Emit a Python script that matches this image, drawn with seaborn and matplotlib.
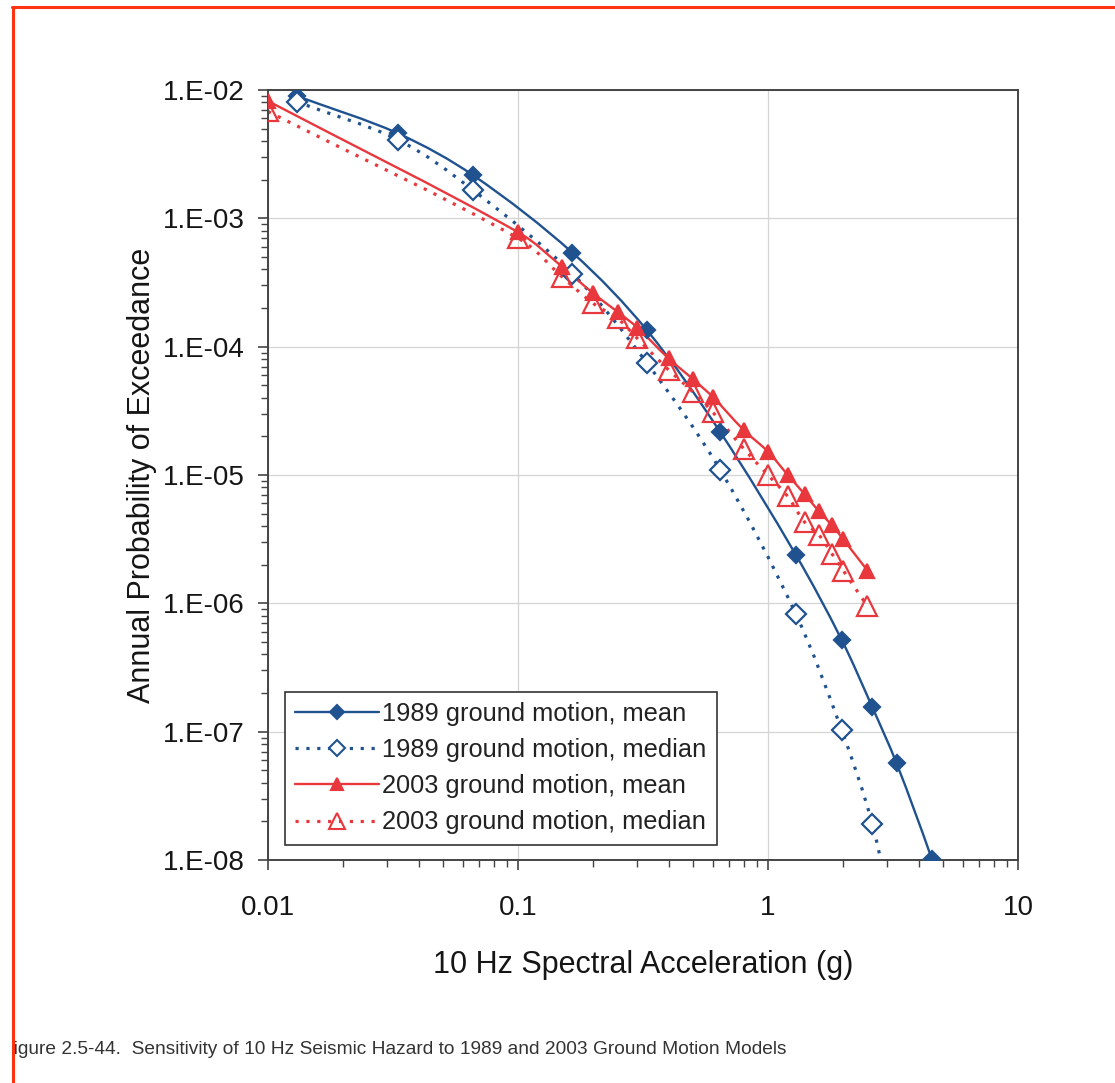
import numpy as np
import pandas as pd
import matplotlib
matplotlib.use("Agg")
import matplotlib.pyplot as plt
from matplotlib.ticker import FuncFormatter, LogLocator, NullFormatter
from matplotlib.lines import Line2D
from matplotlib.path import Path
from matplotlib.patches import PathPatch, Rectangle
import seaborn as sns

# 1989 ground motion model (last points fall below the plotted range)
gm1989_mean_x = [0.013, 0.033, 0.066, 0.165, 0.327, 0.643, 1.29, 1.97, 2.61, 3.27, 4.52, 6.5]
gm1989_mean_y = [9.0e-3, 4.6e-3, 2.17e-3, 5.4e-4, 1.35e-4, 2.17e-5, 2.4e-6, 5.2e-7,
                 1.56e-7, 5.65e-8, 1.02e-8, 1.2e-9]
gm1989_median_x = [0.013, 0.033, 0.066, 0.165, 0.327, 0.643, 1.29, 1.97, 2.61, 3.27]
gm1989_median_y = [8.1e-3, 4.1e-3, 1.66e-3, 3.7e-4, 7.5e-5, 1.1e-5, 8.3e-7, 1.03e-7,
                   1.92e-8, 2.5e-9]

# 2003 ground motion model
gm2003_x = [0.01, 0.1, 0.15, 0.2, 0.25, 0.3, 0.4, 0.5, 0.6, 0.8, 1.0, 1.2, 1.4, 1.6,
            1.8, 2.0, 2.5]
gm2003_mean_y = [8.2e-3, 7.8e-4, 4.2e-4, 2.6e-4, 1.87e-4, 1.41e-4, 8.1e-5, 5.6e-5,
                 4.07e-5, 2.24e-5, 1.52e-5, 1.0e-5, 7.1e-6, 5.2e-6, 4.07e-6, 3.15e-6,
                 1.8e-6]
gm2003_median_y = [6.8e-3, 7.0e-4, 3.5e-4, 2.17e-4, 1.66e-4, 1.16e-4, 6.6e-5, 4.45e-5,
                   3.1e-5, 1.6e-5, 1.0e-5, 6.8e-6, 4.3e-6, 3.4e-6, 2.44e-6, 1.8e-6,
                   9.5e-7]

labels = ["1989 ground motion, mean", "1989 ground motion, median",
          "2003 ground motion, mean", "2003 ground motion, median"]
x_tick_labels = ["0.01", "0.1", "1", "10"]
caption = ("Figure 2.5-44.  Sensitivity of 10 Hz Seismic Hazard to 1989 and 2003 "
           "Ground Motion Models")

sns.set_theme(style="white")
plt.rcParams["font.family"] = ["Liberation Sans", "DejaVu Sans"]

BLUE = "#1f528f"
RED = "#e8383d"
DOTS = (0, (1.0, 2.4))


def smoothed_path(xs, ys):
    """Bezier curve through the points, built in log-log space with
    tangents scaled to each segment's own length (no overshoot)."""
    pts = np.column_stack([np.log10(xs), np.log10(ys)])
    n = len(pts)

    def tangent(i):
        d = pts[min(i + 1, n - 1)] - pts[max(i - 1, 0)]
        return d / np.hypot(*d)

    verts = [pts[0]]
    codes = [Path.MOVETO]
    for i in range(n - 1):
        p1, p2 = pts[i], pts[i + 1]
        seg = np.hypot(*(p2 - p1)) / 3.0
        verts += [p1 + tangent(i) * seg, p2 - tangent(i + 1) * seg, p2]
        codes += [Path.CURVE4] * 3
    return Path(10 ** np.array(verts), codes)


fig = plt.figure(figsize=(11.15, 10.83), dpi=100)
ax = fig.add_axes([0.2404, 0.2059, 0.6726, 0.7110])

series = [
    (gm1989_mean_x, gm1989_mean_y, labels[0], BLUE, "-", "D", BLUE, 8),
    (gm1989_median_x, gm1989_median_y, labels[1], BLUE, DOTS, "D", "white", 10),
    (gm2003_x, gm2003_mean_y, labels[2], RED, "-", "^", RED, 10),
    (gm2003_x, gm2003_median_y, labels[3], RED, DOTS, "^", "none", 15),
]

handles = []
for xs, ys, lab, col, ls, mk, fc, ms in series:
    lw = 1.7 if ls == "-" else 2.3
    ax.add_patch(PathPatch(smoothed_path(xs, ys), fill=False, edgecolor=col,
                           linewidth=lw, linestyle=ls, zorder=2))
    df = pd.DataFrame({"x": xs, "y": ys})
    sns.lineplot(data=df, x="x", y="y", ax=ax, sort=False, estimator=None,
                 color=col, linestyle="none", marker=mk,
                 markersize=ms, markerfacecolor=fc, markeredgecolor=col,
                 markeredgewidth=1.6, legend=False, zorder=3)
    handles.append(Line2D([], [], color=col, linestyle=ls, linewidth=lw, marker=mk,
                          markersize=ms * 0.85 if fc != "none" else 12,
                          markerfacecolor=fc, markeredgecolor=col,
                          markeredgewidth=1.5, label=lab))

ax.set_xscale("log")
ax.set_yscale("log")
ax.set_xlim(0.01, 10)
ax.set_ylim(1e-8, 1e-2)

ax.xaxis.set_major_locator(LogLocator(base=10, numticks=10))
ax.xaxis.set_minor_locator(LogLocator(base=10, subs=np.arange(2, 10), numticks=20))
ax.yaxis.set_major_locator(LogLocator(base=10, numticks=10))
ax.yaxis.set_minor_locator(LogLocator(base=10, subs=np.arange(2, 10), numticks=20))
ax.xaxis.set_major_formatter(FuncFormatter(
    lambda v, p: x_tick_labels[int(round(np.log10(v))) + 2]
    if 0 <= int(round(np.log10(v))) + 2 < len(x_tick_labels) else ""))
ax.yaxis.set_major_formatter(FuncFormatter(
    lambda v, p: "1.E{:03d}".format(int(round(np.log10(v))))))
ax.xaxis.set_minor_formatter(NullFormatter())
ax.yaxis.set_minor_formatter(NullFormatter())

ax.tick_params(axis="both", which="major", direction="out", length=7, width=1.2,
               color="#444444", labelsize=20, labelcolor="#151515",
               bottom=True, left=True)
ax.tick_params(axis="both", which="minor", direction="out", length=5, width=1.0,
               color="#444444", bottom=True, left=True)
ax.tick_params(axis="x", which="major", pad=18)
ax.tick_params(axis="y", which="major", pad=10)

ax.grid(True, which="major", color="#d4d4d4", linewidth=0.9)
for sp in ax.spines.values():
    sp.set_color("#444444")
    sp.set_linewidth(1.4)
    sp.set_visible(True)

ax.set_xlabel("10 Hz Spectral Acceleration (g)", fontsize=22, color="#151515",
              labelpad=21)
ax.set_ylabel("Annual Probability of Exceedance", fontsize=22, color="#151515",
              labelpad=4)

leg = ax.legend(handles=handles, loc="lower left", bbox_to_anchor=(0.022, 0.02),
                fontsize=18.3, frameon=True, fancybox=False, framealpha=1,
                edgecolor="#333333", handlelength=3.3, handletextpad=0.15,
                labelspacing=0.48, borderpad=0.4, borderaxespad=0.0)
leg.get_frame().set_linewidth(1.2)
for t in leg.get_texts():
    t.set_color("#222222")

fig.text(1.5 / 1115, 1 - 1050 / 1083, caption,
         fontsize=13.8, color="#333333", va="center", ha="left")

# page margin and border
fig.add_artist(Rectangle((0, 0), 13 / 1115, 1, transform=fig.transFigure,
                         facecolor="white", edgecolor="none", zorder=5))
border = "#ff3311"
fig.add_artist(Line2D([12 / 1115, 1.0], [1 - 7 / 1083, 1 - 7 / 1083],
                      transform=fig.transFigure, color=border, linewidth=2.2,
                      zorder=6))
fig.add_artist(Line2D([13 / 1115, 13 / 1115], [0.0, 1 - 7 / 1083],
                      transform=fig.transFigure, color=border, linewidth=2.2,
                      zorder=6))

fig.savefig("out.png", dpi=100)
